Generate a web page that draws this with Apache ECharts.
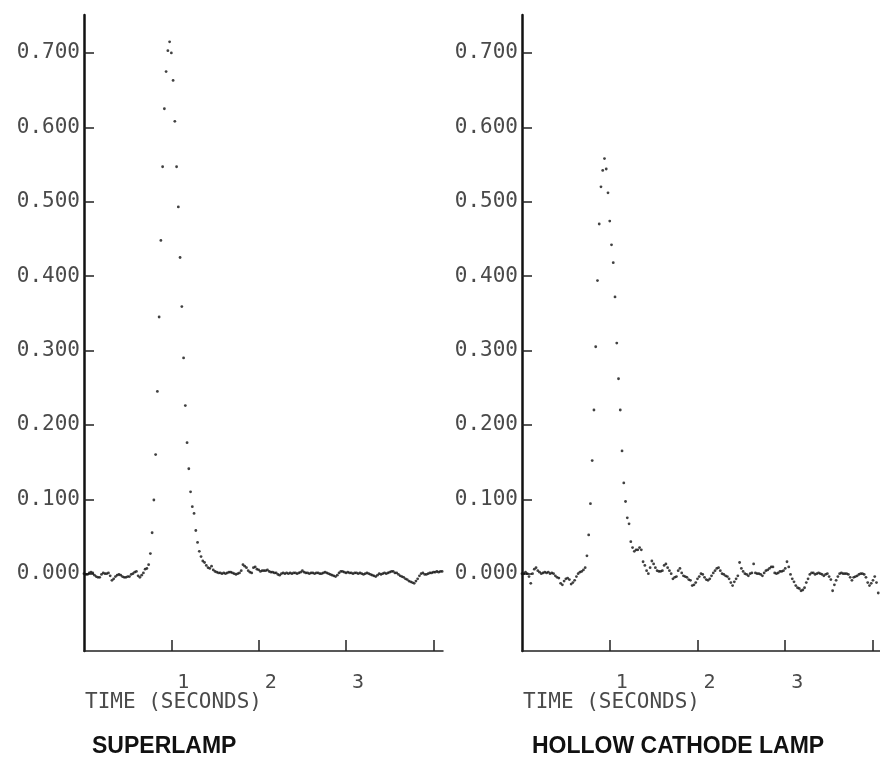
<!DOCTYPE html>
<html>
<head>
<meta charset="utf-8">
<script src="https://cdn.jsdelivr.net/npm/echarts@6/dist/echarts.min.js"></script>
<style>
  html, body { margin: 0; padding: 0; background: #fff; }
</style>
</head>
<body>
<div id="lamp-echarts" style="width: 880px; height: 766px"></div>
<script>
// sample interval of the recorder (seconds)
var dt = 0.02;

var yTicks = [0, 0.1, 0.2, 0.3, 0.4, 0.5, 0.6, 0.7];
var xTicks = [1, 2, 3, 4];
var xLabels = [1, 2, 3];

// SUPERLAMP absorbance, one value per sample
var superlampAbs = [
  0.000, -0.001, -0.001, 0.001, 0.002, 0.001, -0.002, -0.004, -0.005, -0.005,
  -0.001, 0.001, 0.000, 0.000, 0.001, -0.003, -0.009, -0.007, -0.004, -0.002,
  -0.001, -0.002, -0.004, -0.005, -0.005, -0.004, -0.004, -0.001, 0.000, 0.002,
  0.003, -0.003, -0.005, -0.002, 0.001, 0.006, 0.007, 0.012, 0.027, 0.055,
  0.099, 0.160, 0.245, 0.345, 0.448, 0.547, 0.625, 0.675, 0.703, 0.715,
  0.700, 0.663, 0.608, 0.547, 0.493, 0.425, 0.359, 0.290, 0.226, 0.176,
  0.141, 0.110, 0.090, 0.081, 0.058, 0.042, 0.030, 0.023, 0.017, 0.015,
  0.011, 0.008, 0.007, 0.010, 0.005, 0.003, 0.002, 0.001, 0.001, 0.000,
  0.001, 0.000, 0.001, 0.002, 0.002, 0.001, 0.000, -0.001, 0.000, 0.001,
  0.004, 0.012, 0.010, 0.008, 0.004, 0.002, 0.001, 0.008, 0.009, 0.006,
  0.005, 0.003, 0.004, 0.004, 0.004, 0.005, 0.003, 0.002, 0.002, 0.001,
  0.001, -0.001, -0.002, 0.000, 0.001, 0.000, 0.001, 0.000, 0.001, 0.000,
  0.001, 0.001, 0.000, 0.001, 0.002, 0.004, 0.002, 0.001, 0.001, 0.000,
  0.001, 0.001, 0.000, 0.001, 0.001, 0.000, 0.000, 0.001, 0.002, 0.001,
  0.000, -0.001, -0.002, -0.003, -0.004, -0.002, 0.001, 0.003, 0.003, 0.002,
  0.001, 0.002, 0.001, 0.001, 0.000, 0.001, 0.001, 0.000, 0.001, 0.000,
  -0.001, 0.000, 0.001, 0.000, -0.001, -0.002, -0.003, -0.004, -0.002, 0.000,
  -0.001, 0.000, 0.001, 0.000, 0.001, 0.002, 0.003, 0.003, 0.001, 0.001,
  -0.001, -0.003, -0.004, -0.005, -0.007, -0.008, -0.010, -0.011, -0.012, -0.013,
  -0.010, -0.007, -0.003, 0.000, 0.001, -0.001, -0.001, 0.000, 0.001, 0.001,
  0.002, 0.002, 0.003, 0.002, 0.003, 0.003
];

// HOLLOW CATHODE LAMP absorbance
var hollowCathodeAbs = [
  0.000, 0.000, 0.002, 0.000, -0.004, -0.013, 0.000, 0.006, 0.008, 0.004,
  0.002, 0.000, 0.001, 0.002, 0.001, 0.002, 0.000, 0.001, 0.000, -0.003,
  -0.005, -0.006, -0.013, -0.015, -0.010, -0.007, -0.006, -0.008, -0.014, -0.012,
  -0.009, -0.004, 0.000, 0.002, 0.003, 0.005, 0.008, 0.024, 0.052, 0.094,
  0.152, 0.220, 0.305, 0.394, 0.470, 0.520, 0.542, 0.558, 0.544, 0.512,
  0.474, 0.442, 0.418, 0.372, 0.310, 0.262, 0.220, 0.165, 0.122, 0.097,
  0.075, 0.067, 0.043, 0.035, 0.030, 0.032, 0.032, 0.035, 0.032, 0.016,
  0.011, 0.004, 0.000, 0.008, 0.017, 0.013, 0.008, 0.004, 0.003, 0.003,
  0.004, 0.011, 0.013, 0.008, 0.004, 0.000, -0.007, -0.005, -0.004, 0.004,
  0.007, 0.001, -0.003, -0.004, -0.005, -0.008, -0.009, -0.016, -0.015, -0.012,
  -0.007, -0.004, 0.000, -0.001, -0.005, -0.008, -0.009, -0.007, -0.003, 0.001,
  0.004, 0.007, 0.008, 0.004, 0.000, -0.001, -0.003, -0.004, -0.007, -0.012,
  -0.016, -0.011, -0.007, -0.003, 0.015, 0.007, 0.003, 0.000, -0.001, -0.003,
  0.000, 0.001, 0.013, 0.001, 0.000, 0.000, -0.001, -0.003, 0.001, 0.004,
  0.005, 0.007, 0.009, 0.009, 0.001, 0.000, 0.001, 0.003, 0.003, 0.004,
  0.007, 0.016, 0.009, -0.001, -0.007, -0.011, -0.016, -0.019, -0.020, -0.023,
  -0.022, -0.019, -0.012, -0.007, -0.001, 0.001, 0.001, -0.001, 0.000, 0.001,
  0.000, -0.001, -0.003, -0.001, 0.000, -0.004, -0.008, -0.023, -0.015, -0.009,
  -0.004, 0.000, 0.001, 0.000, 0.000, 0.000, -0.001, -0.005, -0.009, -0.005,
  -0.004, -0.003, -0.001, 0.000, 0.000, -0.001, -0.005, -0.012, -0.016, -0.013,
  -0.009, -0.004, -0.012, -0.026
];

function toPoints (values) {
  var pts = [];
  for (var i = 0; i < values.length; i++) {
    pts.push([i * dt, values[i]]);
  }
  return pts;
}

var monoFont = 'DejaVu Sans Mono';
var labelGray = '#4a4a4a';

function makeYAxis (gridIndex) {
  return {
    type: 'value',
    gridIndex: gridIndex,
    min: -0.104,
    max: 0.751,
    splitLine: { show: false },
    axisLine: { show: true, lineStyle: { color: '#111', width: 2.5 } },
    axisTick: {
      show: true, inside: true, length: 10,
      customValues: yTicks,
      lineStyle: { color: '#222', width: 1.5 }
    },
    axisLabel: {
      customValues: yTicks,
      margin: 4,
      fontFamily: monoFont,
      fontSize: 21,
      color: labelGray,
      formatter: function (v) { return v.toFixed(3); }
    }
  };
}

function makeXAxis (gridIndex, max) {
  return {
    type: 'value',
    gridIndex: gridIndex,
    min: 0,
    max: max,
    splitLine: { show: false },
    axisLine: { show: true, onZero: false, lineStyle: { color: '#222', width: 1.5 } },
    axisTick: {
      show: true, inside: true, length: 11,
      customValues: xTicks,
      lineStyle: { color: '#222', width: 1.5 }
    },
    axisLabel: {
      customValues: xLabels,
      margin: 22,
      padding: [0, 0, 0, 24],
      fontFamily: monoFont,
      fontSize: 20,
      color: labelGray
    }
  };
}

function makeSeries (idx, values) {
  return {
    type: 'scatter',
    xAxisIndex: idx,
    yAxisIndex: idx,
    symbol: 'circle',
    symbolSize: 2.8,
    itemStyle: { color: '#111' },
    silent: true,
    data: toPoints(values)
  };
}

var myChart = echarts.init(document.getElementById('lamp-echarts'));

var option = {
  backgroundColor: '#fff',
  animation: false,
  grid: [
    { left: 84, top: 15, width: 359, height: 636 },
    { left: 522, top: 15, width: 358, height: 636 }
  ],
  xAxis: [makeXAxis(0, 4.11), makeXAxis(1, 4.08)],
  yAxis: [makeYAxis(0), makeYAxis(1)],
  series: [makeSeries(0, superlampAbs), makeSeries(1, hollowCathodeAbs)],
  graphic: [
    {
      type: 'text', left: 85, top: 692,
      style: { text: 'TIME (SECONDS)', font: '21px "DejaVu Sans Mono"', fill: labelGray }
    },
    {
      type: 'text', left: 523, top: 692,
      style: { text: 'TIME (SECONDS)', font: '21px "DejaVu Sans Mono"', fill: labelGray }
    },
    {
      type: 'text', left: 92, top: 735,
      style: { text: 'SUPERLAMP', font: 'bold 23px "Liberation Sans"', fill: '#111' }
    },
    {
      type: 'text', left: 532, top: 735,
      style: { text: 'HOLLOW CATHODE LAMP', font: 'bold 23px "Liberation Sans"', fill: '#111' }
    }
  ]
};

myChart.setOption(option);
</script>
</body>
</html>
